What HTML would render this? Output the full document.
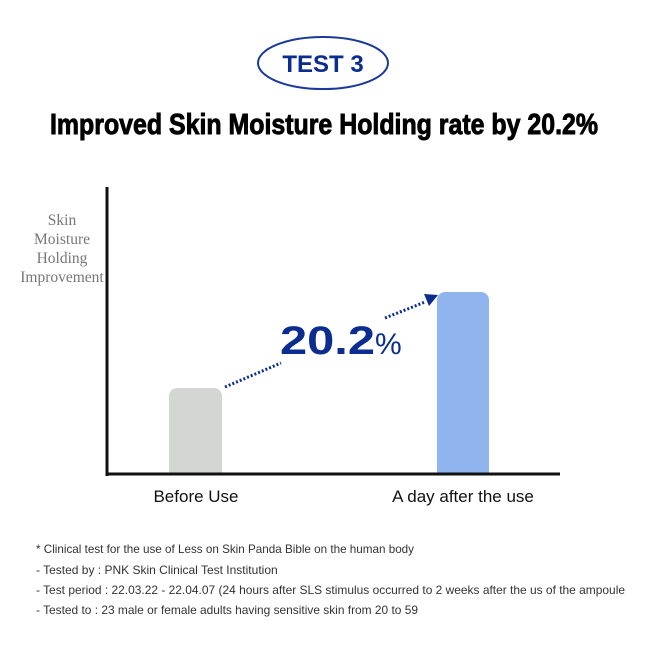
<!DOCTYPE html>
<html><head><style>body{margin:0;background:#fff}svg{display:block}</style></head><body>
<svg width="661" height="665" viewBox="0 0 661 665" xmlns="http://www.w3.org/2000/svg">
<ellipse cx="323" cy="63" rx="65" ry="26" fill="none" stroke="#1a3a9a" stroke-width="2"/>
<text x="323" y="72" text-anchor="middle" font-family="Liberation Sans, sans-serif" font-weight="bold" font-size="24" fill="#0a2d8f">TEST 3</text>
<text x="50" y="134" textLength="548" lengthAdjust="spacingAndGlyphs" font-family="Liberation Sans, sans-serif" font-weight="bold" font-size="29" fill="#000" stroke="#000" stroke-width="0.9">Improved Skin Moisture Holding rate by 20.2%</text>
<g font-family="Liberation Serif, serif" font-size="15.5" fill="#777" text-anchor="middle">
<text x="62" y="225">Skin</text><text x="62" y="244">Moisture</text><text x="62" y="263">Holding</text><text x="62" y="282">Improvement</text></g>
<path d="M169 474 V396 a8 8 0 0 1 8 -8 H214 a8 8 0 0 1 8 8 V474Z" fill="#d4d6d4"/>
<path d="M437 474 V300 a8 8 0 0 1 8 -8 H481 a8 8 0 0 1 8 8 V474Z" fill="#8fb4ee"/>
<line x1="107" y1="187" x2="107" y2="476" stroke="#111" stroke-width="3"/>
<line x1="106" y1="474" x2="560" y2="474" stroke="#111" stroke-width="3"/>
<g font-family="Liberation Sans, sans-serif" font-size="17" fill="#111" text-anchor="middle">
<text x="196" y="502">Before Use</text><text x="463" y="502">A day after the use</text></g>
<g stroke="#0a2d8f" stroke-width="3" stroke-dasharray="2 2" fill="none">
<line x1="225" y1="387" x2="281" y2="363"/><line x1="385" y1="318" x2="425" y2="302"/></g>
<polygon points="438,295 424,294 429,306" fill="#0a2d8f"/>
<text x="280" y="354" font-family="Liberation Sans, sans-serif" font-weight="bold" font-size="40" fill="#0a2d8f" textLength="95" lengthAdjust="spacingAndGlyphs">20.2</text>
<text x="375" y="354" font-family="Liberation Sans, sans-serif" font-size="30" fill="#0a2d8f">%</text>
<g font-family="Liberation Sans, sans-serif" font-size="12" fill="#333">
<text x="36" y="553" textLength="378" lengthAdjust="spacingAndGlyphs">* Clinical test for the use of Less on Skin Panda Bible on the human body</text>
<text x="36" y="574">- Tested by : PNK Skin Clinical Test Institution</text>
<text x="36" y="594" textLength="589" lengthAdjust="spacingAndGlyphs">- Test period : 22.03.22 - 22.04.07 (24 hours after SLS stimulus occurred to 2 weeks after the us of the ampoule</text>
<text x="36" y="614" textLength="382" lengthAdjust="spacingAndGlyphs">- Tested to : 23 male or female adults having sensitive skin from 20 to 59</text>
</g>
</svg>
</body></html>
